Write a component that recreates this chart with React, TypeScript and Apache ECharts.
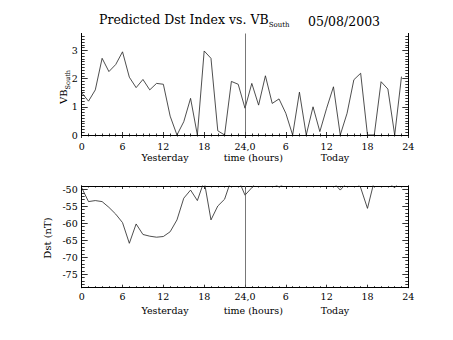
import React, { useEffect, useRef } from "react";
import * as echarts from "echarts";

// hours since 00 UT yesterday
const hours = [
  0, 1, 2, 3, 4, 5, 6, 7, 8, 9, 10, 11, 12, 13, 14, 15, 16, 17, 18, 19, 20, 21, 22, 23,
  24, 25, 26, 27, 28, 29, 30, 31, 32, 33, 34, 35, 36, 37, 38, 39, 40, 41, 42, 43, 44, 45, 46, 47,
];

const vbSouth = [
  1.5, 1.2, 1.6, 2.72, 2.25, 2.5, 2.95, 2.05, 1.68, 1.97, 1.6, 1.83, 1.8, 0.67, 0, 0.47, 1.3, 0,
  2.98, 2.72, 0.15, 0, 1.9, 1.8, 0.95, 1.83, 1.06, 2.1, 1.12, 1.28, 0.77, 0, 1.52, 0, 1.0, 0.12,
  0.95, 1.71, 0, 0.77, 1.96, 2.19, 0, 0, 1.89, 1.63, 0, 2.07,
];

const dst = [
  -49.5, -53.6, -53.3, -53.6, -55.3, -57.3, -59.8, -65.9, -60.2, -63.3, -63.8, -64.1, -63.9,
  -62.5, -59, -52.6, -50.2, -53.3, -47.5, -59, -54.9, -52.9, -47, -47, -51.7, -49.5, -47, -47,
  -48, -49.3, -48, -47, -47, -47, -47, -47, -47, -48, -50.2, -48, -47, -49.5, -55.6, -47.5, -47,
  -48, -49.5, -47,
];

const xTickValues = [0, 6, 12, 18, 24, 30, 36, 42, 48];
const xTickLabels = ["0", "6", "12", "18", "24,0", "6", "12", "18", "24"];
const vbTicks = [0, 1, 2, 3];
const dstTicks = [-75, -70, -65, -60, -55, -50];
const dayLabels = ["Yesterday", "time (hours)", "Today"];

const FONT = "DejaVu Serif";
const INK = "#000";

const VB_RANGE = [0, 3.6];
const DST_RANGE = [-79, -49];

function minorValues(lo: number, hi: number, step: number, majors: number[]) {
  const out: number[] = [];
  const n = Math.round((hi - lo) / step);
  for (let i = 0; i <= n; i++) {
    const v = +(lo + i * step).toFixed(4);
    if (!majors.some((m) => Math.abs(m - v) < 1e-6)) out.push(v);
  }
  return out;
}

function xAxes(gridIndex: number) {
  const base = {
    type: "value" as const,
    gridIndex,
    min: 0,
    max: 48,
    interval: 6,
    axisLine: { show: true, lineStyle: { color: INK, width: 1 } },
    axisTick: { show: true, inside: true, length: 3, lineStyle: { color: INK, width: 0.8 } },
    minorTick: { show: true, splitNumber: 6, length: 1.5, lineStyle: { color: INK, width: 0.8 } },
    splitLine: { show: false },
    minorSplitLine: { show: false },
  };
  return [
    {
      ...base,
      position: "bottom",
      axisLabel: {
        show: true,
        margin: gridIndex === 0 ? 6 : 4,
        color: INK,
        fontFamily: FONT,
        fontSize: 9.5,
        formatter: (v: number) => {
          const i = xTickValues.indexOf(v);
          return i >= 0 ? xTickLabels[i] : "";
        },
      },
    },
    { ...base, position: "top", axisLabel: { show: false } },
  ];
}

function yAxes(gridIndex: number, range: number[], majors: number[], minorStep: number) {
  const minors = minorValues(range[0], range[1], minorStep, majors).filter(
    (v) => v > range[0] && v < range[1]
  );
  const base = {
    type: "value" as const,
    gridIndex,
    min: range[0],
    max: range[1],
    axisLine: { show: true, lineStyle: { color: INK, width: 1 } },
    splitLine: { show: false },
  };
  const major = {
    ...base,
    axisTick: { show: true, inside: true, length: 6, customValues: majors, lineStyle: { color: INK, width: 0.8 } },
  };
  const minor = {
    ...base,
    axisLabel: { show: false },
    axisTick: { show: true, inside: true, length: 3, customValues: minors, lineStyle: { color: INK, width: 0.8 } },
  };
  return [
    {
      ...major,
      position: "left",
      axisLabel: {
        show: true,
        customValues: majors,
        margin: 4,
        color: INK,
        fontFamily: FONT,
        fontSize: 9.5,
      },
    },
    { ...minor, position: "left" },
    { ...major, position: "right", axisLabel: { show: false } },
    { ...minor, position: "right" },
  ];
}

function vline() {
  return {
    silent: true,
    symbol: ["none", "none"],
    label: { show: false },
    lineStyle: { color: "#555", width: 0.8, type: "solid" },
    data: [{ xAxis: 24 }],
  };
}

export default function App() {
  const ref = useRef<HTMLDivElement>(null);
  useEffect(() => {
    if (!ref.current) return;
    const chart = echarts.init(ref.current, null, { renderer: "svg" });
    const txt = (extra: any) => ({
      type: "text",
      silent: true,
      ...extra,
      style: { fill: INK, fontFamily: FONT, ...extra.style },
    });
    const option: any = {
      animation: false,
      backgroundColor: "#fff",
      grid: [
        { left: 81.7, top: 33.5, width: 326.6, height: 101.5 },
        { left: 81.7, top: 186, width: 326.6, height: 101.7 },
      ],
      xAxis: [...xAxes(0), ...xAxes(1)],
      yAxis: [
        ...yAxes(0, VB_RANGE, vbTicks, 0.1),
        ...yAxes(1, DST_RANGE, dstTicks, 1),
      ],
      series: [
        {
          type: "line",
          xAxisIndex: 0,
          yAxisIndex: 0,
          data: hours.map((h, i) => [h, vbSouth[i]]),
          showSymbol: false,
          clip: true,
          lineStyle: { color: "#222", width: 0.8 },
          markLine: vline(),
        },
        {
          type: "line",
          xAxisIndex: 2,
          yAxisIndex: 4,
          data: hours.map((h, i) => [h, dst[i]]),
          showSymbol: false,
          clip: true,
          lineStyle: { color: "#222", width: 0.8 },
          markLine: vline(),
        },
      ],
      graphic: [
        txt({
          left: 99,
          top: 13,
          style: {
            text: "{a|Predicted Dst Index vs. VB}{b|South}",
            rich: {
              a: { fontFamily: FONT, fontSize: 12.5, lineHeight: 18, verticalAlign: "middle", fill: INK },
              b: { fontFamily: FONT, fontSize: 7, lineHeight: 7, verticalAlign: "bottom", fill: INK },
            },
          },
        }),
        txt({ left: 308, top: 15, style: { text: "05/08/2003", fontSize: 12.5 } }),
        txt({
          x: 63,
          y: 87,
          rotation: Math.PI / 2,
          style: {
            text: "{a|VB}{b|South}",
            align: "center",
            verticalAlign: "middle",
            rich: {
              a: { fontFamily: FONT, fontSize: 10, lineHeight: 16, verticalAlign: "middle", fill: INK },
              b: { fontFamily: FONT, fontSize: 6.5, lineHeight: 6.5, verticalAlign: "bottom", fill: INK },
            },
          },
        }),
        txt({
          x: 47,
          y: 238,
          rotation: Math.PI / 2,
          style: { text: "Dst (nT)", fontSize: 10, align: "center", verticalAlign: "middle" },
        }),
        ...[0, 1].flatMap((g) => {
          const y = g === 0 ? 157.5 : 310.5;
          const xs = [165, 253.3, 335];
          return dayLabels.map((s, i) =>
            txt({ x: xs[i], y, style: { text: s, fontSize: 9.5, align: "center", verticalAlign: "middle" } })
          );
        }),
      ],
    };
    chart.setOption(option);
    return () => chart.dispose();
  }, []);
  return (
    <div
      ref={ref}
      style={{ position: "fixed", left: 0, top: 0, width: 453, height: 340, background: "#fff" }}
    />
  );
}
